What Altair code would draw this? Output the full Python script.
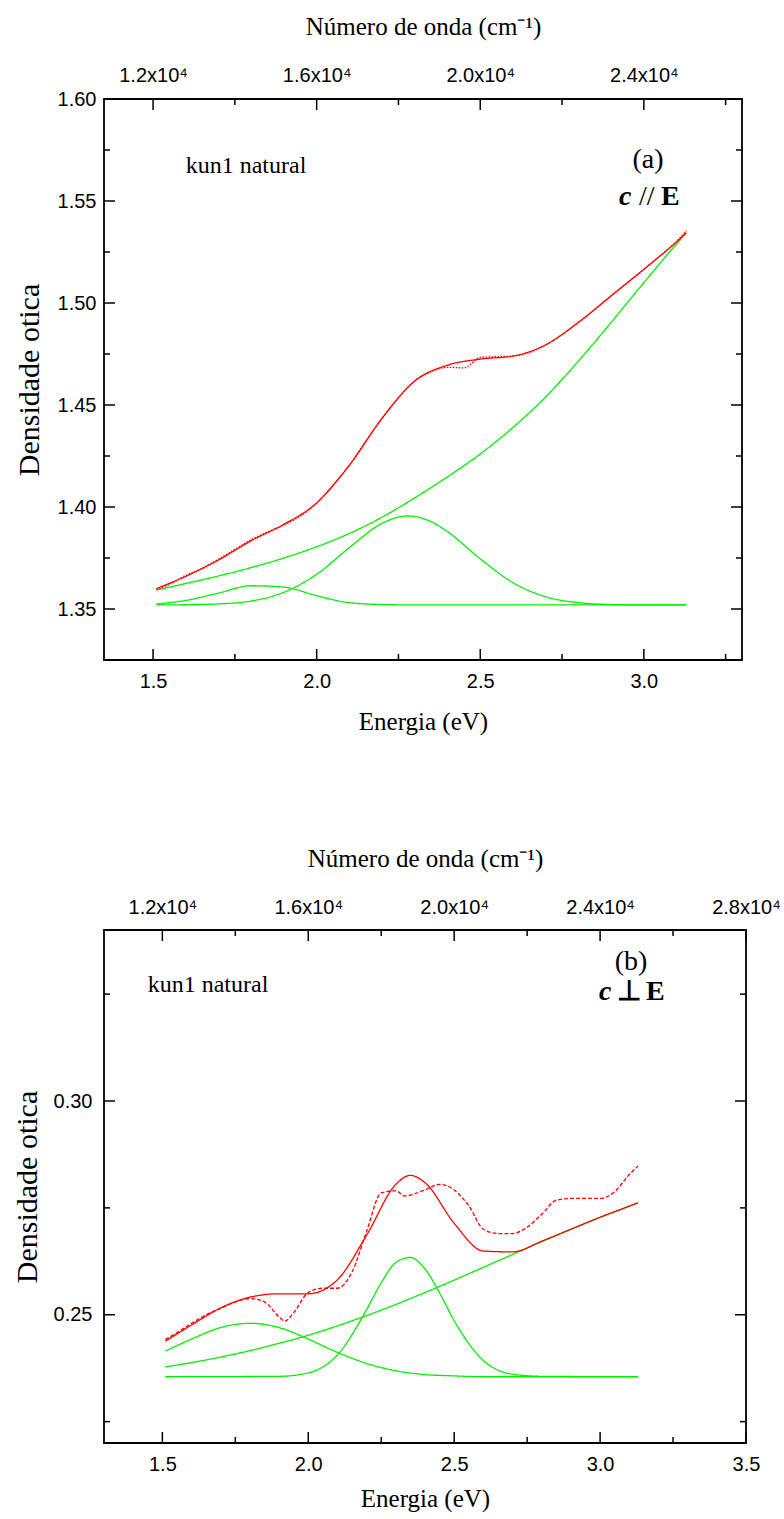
import altair as alt
import pandas as pd

# ---------------- Panel (a): c // E ----------------
E = [1.51, 1.6, 1.7, 1.8, 1.9, 2.0, 2.1, 2.2, 2.3, 2.4, 2.5, 2.6, 2.7, 2.8, 2.9, 3.0, 3.1, 3.13]

FIT_A = [1.3600, 1.3660, 1.3740, 1.3835, 1.3915, 1.4020, 1.4205, 1.4435, 1.4618,
         1.4695, 1.4725, 1.4740, 1.4795, 1.4905, 1.5035, 1.5165, 1.5300, 1.5345]
BG_A = [1.3593, 1.3625, 1.3662, 1.3703, 1.3750, 1.3805, 1.3870, 1.3950, 1.4045,
        1.4148, 1.4260, 1.4390, 1.4540, 1.4715, 1.4905, 1.5100, 1.5290, 1.5345]
G1_A = [1.3525, 1.3542, 1.3578, 1.3614, 1.3607, 1.3565, 1.3531, 1.3522, 1.3520,
        1.3520, 1.3520, 1.3520, 1.3520, 1.3520, 1.3520, 1.3520, 1.3520, 1.3520]
E_G2_A = [1.51, 1.6, 1.7, 1.8, 1.9, 2.0, 2.1, 2.2, 2.28, 2.35, 2.4, 2.5, 2.6, 2.7,
          2.8, 2.9, 3.0, 3.13]
G2_A = [1.3520, 1.3521, 1.3525, 1.3539, 1.3582, 1.3670, 1.3801, 1.3920, 1.3956,
        1.3928, 1.3879, 1.3746, 1.3629, 1.3560, 1.3531, 1.3522, 1.3520, 1.3520]

E_DATA_A = [1.51, 1.55, 1.60, 1.65, 1.70, 1.75, 1.80, 1.85, 1.90, 1.95, 2.00, 2.05,
            2.10, 2.15, 2.20, 2.25, 2.30, 2.35, 2.40, 2.45, 2.50, 2.55, 2.60, 2.65,
            2.70, 2.75, 2.80, 2.85, 2.90, 2.95, 3.00, 3.05, 3.10, 3.13]
DATA_A = [1.3595, 1.3620, 1.3665, 1.3700, 1.3745, 1.3792, 1.3840, 1.3878, 1.3912,
          1.3955, 1.4020, 1.4108, 1.4205, 1.4322, 1.4435, 1.4535, 1.4618, 1.4663,
          1.4685, 1.4682, 1.4733, 1.4737, 1.4740, 1.4757, 1.4795, 1.4845, 1.4905,
          1.4968, 1.5035, 1.5100, 1.5165, 1.5232, 1.5302, 1.5355]

# ---------------- Panel (b): c ⊥ E ----------------
E_FIT_B = [1.51, 1.6, 1.7, 1.8, 1.9, 2.0, 2.1, 2.2, 2.3, 2.35, 2.4, 2.5, 2.6, 2.7,
           2.8, 2.9, 3.0, 3.1, 3.13]
FIT_B = [0.2438, 0.2476, 0.2516, 0.2541, 0.2549, 0.2549, 0.2582, 0.2686, 0.2805,
         0.2826, 0.2809, 0.2714, 0.2649, 0.2647, 0.2672, 0.2700, 0.2728, 0.2754, 0.2762]
BG_B = [0.2378, 0.2388, 0.2401, 0.2416, 0.2433, 0.2452, 0.2474, 0.2498, 0.2524,
        0.2552, 0.2581, 0.2611, 0.2641, 0.2671, 0.2700, 0.2728, 0.2754, 0.2762]
G1_B = [0.2415, 0.2443, 0.2470, 0.2480, 0.2470, 0.2443, 0.2412, 0.2386, 0.2369,
        0.2360, 0.2357, 0.2355, 0.2355, 0.2355, 0.2355, 0.2355, 0.2355, 0.2355]
E_G2_B = [1.51, 1.9, 2.0, 2.1, 2.2, 2.25, 2.3, 2.35, 2.4, 2.45, 2.5, 2.6, 2.7, 2.8, 3.13]
G2_B = [0.2355, 0.2356, 0.2364, 0.2406, 0.2512, 0.2575, 0.2622, 0.2634, 0.2607,
        0.2551, 0.2486, 0.2393, 0.2361, 0.2356, 0.2355]
E_DATA_B = [1.51, 1.55, 1.60, 1.65, 1.70, 1.75, 1.80, 1.85, 1.90, 1.92, 1.95, 2.00,
            2.05, 2.10, 2.15, 2.20, 2.25, 2.30, 2.33, 2.40, 2.45, 2.50, 2.55, 2.60,
            2.65, 2.70, 2.75, 2.80, 2.85, 2.90, 2.95, 3.00, 3.05, 3.10, 3.13]
DATA_B = [0.2442, 0.2458, 0.2480, 0.2500, 0.2515, 0.2530, 0.2538, 0.2530, 0.2495,
          0.2485, 0.2505, 0.2552, 0.2562, 0.2562, 0.2600, 0.2695, 0.2785, 0.2790,
          0.2778, 0.2792, 0.2805, 0.2792, 0.2755, 0.2700, 0.2690, 0.2690, 0.2705,
          0.2735, 0.2768, 0.2772, 0.2772, 0.2772, 0.2788, 0.2828, 0.2848]

# axis ticks / labels
XMAJ_A = [1.5, 2.0, 2.5, 3.0]
XMIN_A = [1.75, 2.25, 2.75, 3.25]
YMAJ_A = [1.35, 1.40, 1.45, 1.50, 1.55, 1.60]
YMIN_A = [1.375, 1.425, 1.475, 1.525, 1.575]
WN_A = [12000, 16000, 20000, 24000]

XMAJ_B = [1.5, 2.0, 2.5, 3.0, 3.5]
XMIN_B = [1.75, 2.25, 2.75, 3.25]
YMAJ_B = [0.25, 0.30]
YMIN_B = [0.225, 0.275, 0.325]
WN_B = [12000, 16000, 20000, 24000, 28000]

SERIES = ["g1", "g2", "bg", "fit", "data"]
COLORS = ["#00ee00", "#00ee00", "#00ee00", "#ff0000", "#ff0000"]

SERIF = "Liberation Serif"
SANS = "Liberation Sans"
TICK_MAJ = 11
TICK_MIN = 6


def long_df(parts):
    rows = []
    for name, es, vs in parts:
        for e, v in zip(es, vs):
            rows.append({"e": e, "v": v, "s": name})
    return pd.DataFrame(rows)


def panel(df, xdom, ydom, w, h, xmaj, xmin, ymaj, ymin, wn, dash, texts, pads):
    xs = alt.Scale(domain=xdom, nice=False, zero=False)
    ys = alt.Scale(domain=ydom, nice=False, zero=False)
    lines = alt.Chart(df).mark_line(interpolate="monotone", strokeWidth=1.3).encode(
        x=alt.X("e:Q", scale=xs, title="Energia (eV)",
                axis=alt.Axis(orient="bottom", values=xmaj, format=".1f",
                              labelPadding=pads["bl"], titlePadding=pads["bt"])),
        y=alt.Y("v:Q", scale=ys, title="Densidade otica",
                axis=alt.Axis(orient="left", values=ymaj, format=".2f",
                              labelPadding=pads["ll"], titlePadding=pads["lt"],
                              titleFontSize=30)),
        color=alt.Color("s:N", scale=alt.Scale(domain=SERIES, range=COLORS), legend=None),
        strokeDash=alt.StrokeDash("s:N", scale=alt.Scale(
            domain=SERIES, range=[[1, 0], [1, 0], [1, 0], [1, 0], dash]), legend=None),
    )
    wn_dom = [xdom[0] * 8000, xdom[1] * 8000]
    top = alt.Chart(df).transform_calculate(wn="datum.e * 8000").mark_point(opacity=0).encode(
        x=alt.X("wn:Q", scale=alt.Scale(domain=wn_dom, nice=False, zero=False),
                title="Número de onda (cm⁻¹)",
                axis=alt.Axis(orient="top", values=wn,
                              labelExpr="format(datum.value / 10000, '.1f') + 'x10⁴'",
                              labelPadding=pads["tl"], titlePadding=pads["tt"])),
        y=alt.value(0),
    )
    layers = [lines, top]

    def xticks(vals, size):
        d = pd.DataFrame({"t": vals})
        b = alt.Chart(d).mark_rule(color="black", strokeWidth=1.5).encode(
            x=alt.X("t:Q", scale=xs, axis=None), y=alt.value(h), y2=alt.value(h - size))
        t = alt.Chart(d).mark_rule(color="black", strokeWidth=1.5).encode(
            x=alt.X("t:Q", scale=xs, axis=None), y=alt.value(0), y2=alt.value(size))
        return [b, t]

    def yticks(vals, size):
        d = pd.DataFrame({"t": vals})
        l = alt.Chart(d).mark_rule(color="black", strokeWidth=1.5).encode(
            y=alt.Y("t:Q", scale=ys, axis=None), x=alt.value(0), x2=alt.value(size))
        r = alt.Chart(d).mark_rule(color="black", strokeWidth=1.5).encode(
            y=alt.Y("t:Q", scale=ys, axis=None), x=alt.value(w - size), x2=alt.value(w))
        return [l, r]

    layers += xticks(xmaj, TICK_MAJ) + xticks(xmin, TICK_MIN)
    layers += yticks(ymaj, TICK_MAJ) + yticks(ymin, TICK_MIN)

    for txt, px, py, size, weight, style, align in texts:
        layers.append(
            alt.Chart(pd.DataFrame({"t": [txt]})).mark_text(
                font=SERIF, fontSize=size, fontWeight=weight, fontStyle=style,
                align=align, baseline="middle", color="black",
            ).encode(text="t:N", x=alt.value(px), y=alt.value(py))
        )
    return alt.layer(*layers).resolve_scale(x="independent", y="independent").properties(
        width=w, height=h)


df_a = long_df([("g1", E, G1_A), ("g2", E_G2_A, G2_A), ("bg", E, BG_A),
                ("fit", E, FIT_A), ("data", E_DATA_A, DATA_A)])
df_b = long_df([("g1", E, G1_B), ("g2", E_G2_B, G2_B), ("bg", E, BG_B),
                ("fit", E_FIT_B, FIT_B), ("data", E_DATA_B, DATA_B)])

texts_a = [
    ("kun1 natural", 142, 67, 24, "normal", "normal", "center"),
    ("(a)", 544, 61, 28, "normal", "normal", "center"),
    ("c", 515, 98, 28, "bold", "italic", "left"),
    ("//", 535, 98, 28, "normal", "normal", "left"),
    ("E", 557, 98, 28, "bold", "normal", "left"),
]
texts_b = [
    ("kun1 natural", 104, 55, 24, "normal", "normal", "center"),
    ("(b)", 527, 32, 28, "normal", "normal", "center"),
    ("c", 495, 62, 28, "bold", "italic", "left"),
    ("⊥", 513, 62, 28, "bold", "normal", "left"),
    ("E", 542, 62, 28, "bold", "normal", "left"),
]

pads_a = {"bl": 11, "bt": 18, "ll": 8, "lt": 13, "tl": 14, "tt": 26}
pads_b = {"bl": 11, "bt": 12, "ll": 12, "lt": 11, "tl": 13, "tt": 26}

pa = panel(df_a, [1.35, 3.30], [1.325, 1.60], 638, 561, XMAJ_A, XMIN_A, YMAJ_A,
           YMIN_A, WN_A, [1.5, 1.5], texts_a, pads_a)
pb = panel(df_b, [1.30, 3.50], [0.22, 0.34], 642, 513, XMAJ_B, XMIN_B, YMAJ_B,
           YMIN_B, WN_B, [4, 2], texts_b, pads_b)

chart = alt.vconcat(pa, pb, spacing=110).resolve_scale(
    color="independent", strokeDash="independent"
).properties(
    padding={"left": 11, "top": 13, "right": 0, "bottom": 0}
).configure_view(
    stroke="black", strokeWidth=1.8
).configure_axis(
    labelFont=SANS, labelFontSize=20, labelColor="black",
    titleFont=SERIF, titleFontSize=25, titleFontWeight="normal", titleColor="black",
    grid=False, ticks=False, domain=False, tickSize=0, labelFlush=False,
    labelOverlap=False,
)

chart.save("out.html", embed_options={"renderer": "svg", "actions": False})
